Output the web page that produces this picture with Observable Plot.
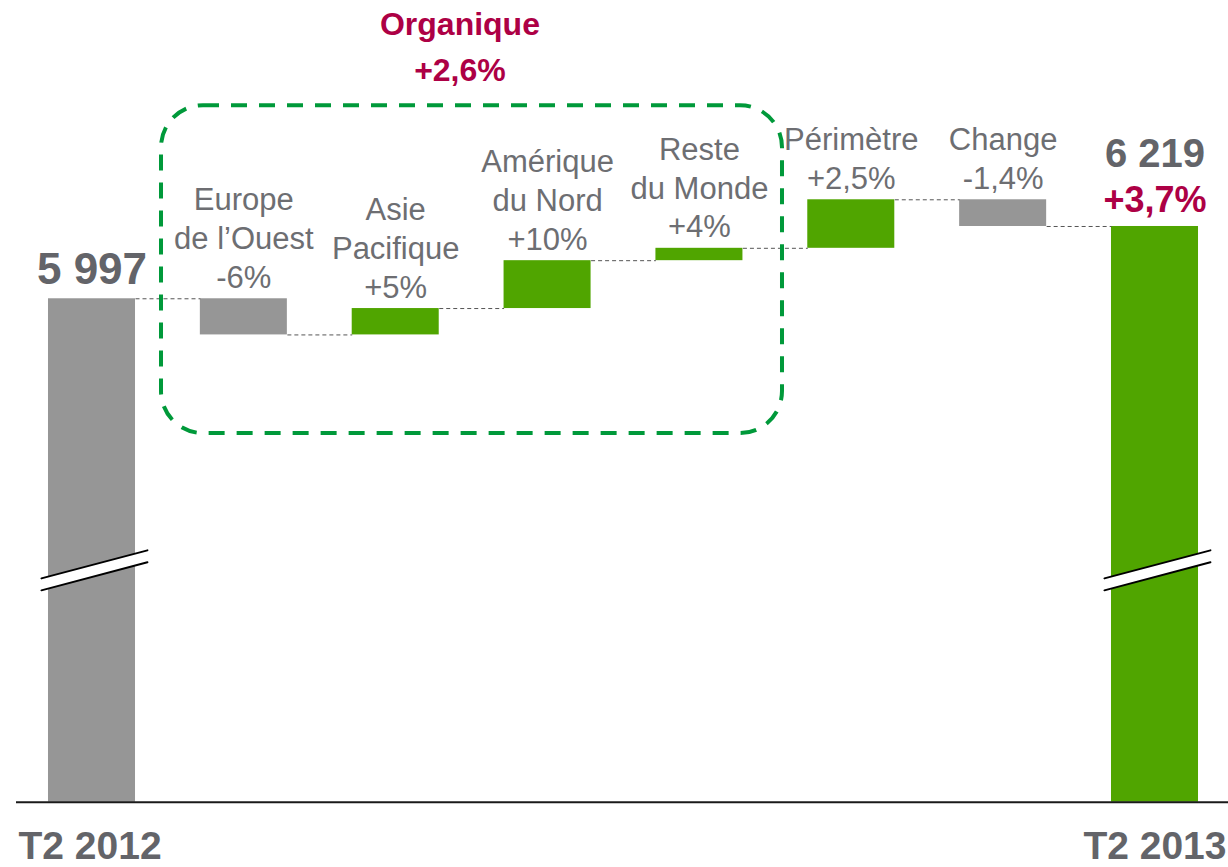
<!DOCTYPE html>
<html><head><meta charset="utf-8">
<script src="https://cdn.jsdelivr.net/npm/d3@7"></script>
<script src="https://cdn.jsdelivr.net/npm/@observablehq/plot@0.6"></script>
<style>html,body{margin:0;padding:0;background:#fff;} svg{display:block}</style>
</head><body><div id="chart"></div>
<script>
// ---- data ----
const categories = ["T2 2012", "Europe de l’Ouest", "Asie Pacifique", "Amérique du Nord", "Reste du Monde", "Périmètre", "Change", "T2 2013"];
const stepLabels = ["Europe\nde l’Ouest\n-6%", "Asie\nPacifique\n+5%", "Amérique\ndu Nord\n+10%", "Reste\ndu Monde\n+4%", "Périmètre\n+2,5%", "Change\n-1,4%"];
const startValue = 5997;
const endValue = 6219;
const stepDeltas = [-111, 81, 147, 38, 149, -82];
const totalLabels = ["5 997", "6 219"];
const totalChange = "+3,7%";
const groupTitle = "Organique\n+2,6%";
const periodLabels = ["T2 2012", "T2 2013"];
const axisBase = 4451;          // value at the drawn (broken) baseline
const axisTop = 6913;
const breakLine = [{dx: -0.333, v: 5120}, {dx: 0.365, v: 5206}]; // axis-break stroke
const breakGap = 18.4;
const groupBox = {x1: 0.4577, x2: 4.547, y1: 5583, y2: 6590};
const groupTitlePos = {x: 2.423, y: 6667};

// ---- styles ----
const GRAY = "#969696", GREEN = "#50a500", CRIMSON = "#ad0045", TEXT = "#6d6e72", DARK = "#636469";
const HALF = 0.2865;

// ---- build ----
let run = startValue;
const steps = stepDeltas.map((d, k) => {
  const from = run; run += d;
  return {i: k + 1, from, to: run, label: stepLabels[k], color: d < 0 ? GRAY : GREEN, cat: categories[k + 1]};
});
const totals = [
  {i: 0, value: startValue, color: GRAY, label: totalLabels[0]},
  {i: categories.length - 1, value: endValue, color: GREEN, label: totalLabels[1]}
];
const levels = [startValue, ...steps.map(s => s.to)];
const connectors = levels.map((v, j) => ({x1: j + HALF, x2: j + 1 - HALF, y: v}));
const breakPts = [];
totals.forEach((t, k) => breakLine.forEach(p => breakPts.push({z: k, x: t.i + p.dx, y: p.v})));
const breakTop = breakPts.map(p => ({...p, y: p.y + breakGap}));
const breakBot = breakPts.map(p => ({...p, y: p.y - breakGap}));

const chart = Plot.plot({
  width: 1228, height: 867,
  marginLeft: 16, marginRight: 0, marginTop: 0, marginBottom: 0,
  x: {type: "linear", domain: [0, 7], range: [91.5, 1154.5], axis: null},
  y: {type: "linear", domain: [axisBase, axisTop], range: [801.7, 0], axis: null},
  color: {type: "identity"},
  style: {fontFamily: "'Liberation Sans', Arial, sans-serif", background: "#fff"},
  marks: [
    Plot.rect(totals, {x1: d => d.i - HALF, x2: d => d.i + HALF, y1: axisBase, y2: "value", fill: "color"}),
    Plot.rect(steps, {x1: d => d.i - HALF, x2: d => d.i + HALF, y1: "from", y2: "to", fill: "color"}),
    Plot.line(breakPts, {x: "x", y: "y", z: "z", stroke: "white", strokeWidth: 11.5}),
    Plot.line(breakTop, {x: "x", y: "y", z: "z", stroke: "#000", strokeWidth: 2}),
    Plot.line(breakBot, {x: "x", y: "y", z: "z", stroke: "#000", strokeWidth: 2}),
    Plot.link(connectors, {x1: "x1", x2: "x2", y1: "y", y2: "y", stroke: "#555", strokeWidth: 1, strokeDasharray: "4,3"}),
    Plot.ruleY([axisBase], {stroke: "#1a1a1a", strokeWidth: 2}),
    Plot.rect([groupBox], {x1: "x1", x2: "x2", y1: "y1", y2: "y2", fill: "none", stroke: "#00993a", strokeWidth: 4, strokeDasharray: "16,12", rx: 42}),
    Plot.text(steps, {x: "i", y: d => Math.max(d.from, d.to), text: "label", lineAnchor: "bottom", dy: -11, fontSize: 31, lineHeight: 1.25, fill: TEXT}),
    Plot.text([totals[0]], {x: "i", y: "value", text: "label", lineAnchor: "bottom", dy: -15, fontSize: 44, fontWeight: "bold", fill: DARK}),
    Plot.text([totals[1]], {x: "i", y: "value", text: "label", lineAnchor: "bottom", dy: -59.3, fontSize: 40, fontWeight: "bold", fill: DARK}),
    Plot.text([totals[1]], {x: "i", y: "value", text: () => totalChange, lineAnchor: "bottom", dy: -14.3, fontSize: 36, fontWeight: "bold", fill: CRIMSON}),
    Plot.text([groupTitlePos], {x: "x", y: "y", text: () => groupTitle, lineAnchor: "bottom", fontSize: 32, lineHeight: 1.42, fontWeight: "bold", fill: CRIMSON}),
    Plot.text([{i: 0, t: periodLabels[0]}], {x: "i", y: axisBase, text: "t", lineAnchor: "bottom", textAnchor: "start", dx: -73.5, dy: 56.5, fontSize: 39, fontWeight: "bold", fill: DARK}),
    Plot.text([{i: 7, t: periodLabels[1]}], {x: "i", y: axisBase, text: "t", lineAnchor: "bottom", textAnchor: "end", dx: 71.5, dy: 56.5, fontSize: 39, fontWeight: "bold", fill: DARK})
  ]
});
document.getElementById("chart").appendChild(chart);
</script>
</body></html>
